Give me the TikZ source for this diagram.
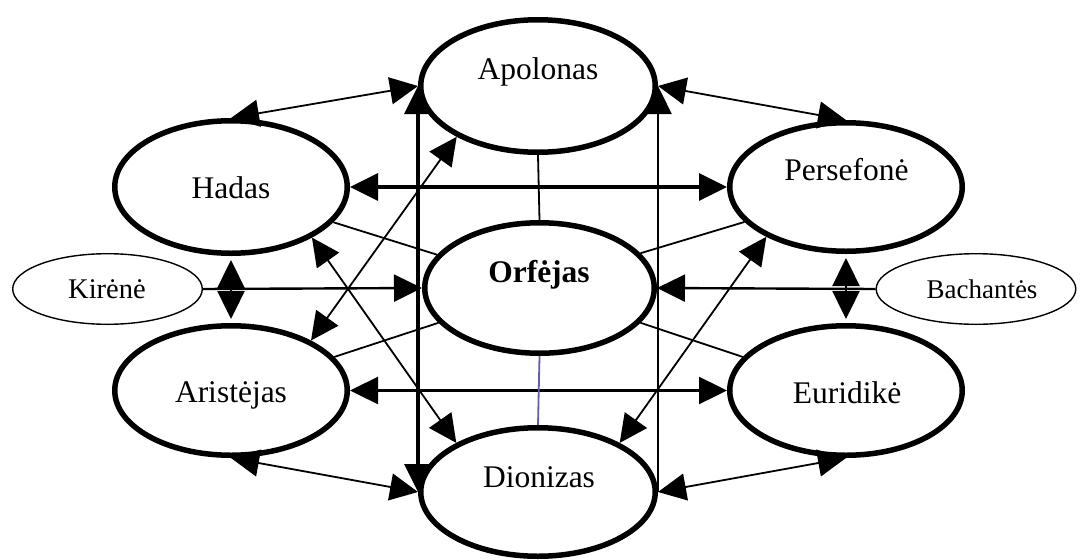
\documentclass[tikz,border=0pt]{standalone}
\usepackage{fontspec}
\setmainfont{Liberation Serif}
\usetikzlibrary{shapes.geometric,arrows.meta}
\definecolor{slate}{RGB}{96,96,160}
\begin{document}
\begin{tikzpicture}[x=1pt,y=-1pt,
  big/.style={ellipse,draw,line width=5.5pt,fill=white,inner sep=0pt},
  smallell/.style={ellipse,draw,line width=1.4pt,fill=white,inner sep=0pt},
  lbl/.style={anchor=base,inner sep=0pt,font=\fontsize{31.5}{37}\selectfont},
  slbl/.style={anchor=base,inner sep=0pt,font=\fontsize{27}{32}\selectfont},
  >={Triangle[length=28pt,width=27pt]},
  conn/.style={line width=1.8pt},
  medline/.style={line width=2.4pt},
  heavyline/.style={line width=3.2pt}]
\useasboundingbox (0,0) rectangle (1080,560);
% ellipses
\node[big,minimum width=234.5pt,minimum height=132.5pt] (apolonas) at (538,86) {};
\node[big,minimum width=229.5pt,minimum height=130.5pt] (orfejas) at (539.5,288) {};
\node[big,minimum width=234.5pt,minimum height=128.5pt] (dionizas) at (538,492) {};
\node[big,minimum width=232.5pt,minimum height=132.5pt] (hadas) at (231,187) {};
\node[big,minimum width=232.5pt,minimum height=128.5pt] (persefone) at (846,187) {};
\node[big,minimum width=232.5pt,minimum height=129.5pt] (aristejas) at (231,390.5) {};
\node[big,minimum width=232.5pt,minimum height=129.5pt] (euridike) at (846,390.5) {};
\node[smallell,minimum width=189.6pt,minimum height=70.6pt] (kirene) at (107.5,289) {};
\node[smallell,minimum width=199.6pt,minimum height=70.6pt] (bachantes) at (976,289) {};
% labels
\node[lbl] (apolonas-t) at (538,79) {Apolonas};
\node[lbl,font=\fontsize{31.5}{37}\selectfont\bfseries] (orfejas-t) at (539,282) {Orfėjas};
\node[lbl] (dionizas-t) at (539,487) {Dionizas};
\node[lbl] (hadas-t) at (231,198) {Hadas};
\node[lbl] (persefone-t) at (846.5,180) {Persefonė};
\node[lbl] (aristejas-t) at (231,402) {Aristėjas};
\node[lbl] (euridike-t) at (847,403) {Euridikė};
\node[slbl,font=\fontsize{28.5}{33}\selectfont] (kirene-t) at (107,298) {Kirėnė};
\node[slbl] (bachantes-t) at (982,298) {Bachantės};
% connectors
\draw[conn,<->] (hadas.north) -- (apolonas.west);
\draw[conn,<->] (apolonas.east) -- (persefone.north);
\draw[conn,<->] (aristejas.south) -- (dionizas.west);
\draw[conn,<->] (euridike.south) -- (dionizas.east);
\draw[heavyline,<->] (hadas.east) -- (persefone.west);
\draw[medline,<->] (aristejas.east) -- (euridike.west);
\draw[medline,->] (kirene.east) -- (orfejas.west);
\draw[medline,->] (bachantes.west) -- (orfejas.east);
\draw[medline,<->,shorten <=4pt,shorten >=4pt] (hadas.south) -- (aristejas.north);
\draw[medline,<->,shorten <=4pt,shorten >=4pt] (persefone.south) -- (euridike.north);
\draw[heavyline,<->] (apolonas.west) -- (dionizas.west);
\draw[medline,->] (dionizas.east) -- (apolonas.east);
\draw[conn,<->] (aristejas.32) -- (apolonas.212);
\draw[conn,<->] (hadas.-32) -- (dionizas.149);
\draw[conn,<->] (dionizas.31) -- (persefone.212);
\draw[conn] (hadas.-19) -- (orfejas.162);
\draw[conn] (persefone.199) -- (orfejas.19);
\draw[conn] (aristejas.18) -- (orfejas.199);
\draw[conn] (euridike.162) -- (orfejas.-19);
\draw[conn] (apolonas.south) -- (orfejas.north);
\draw[conn,slate] (orfejas.south) -- (dionizas.north);
\end{tikzpicture}
\end{document}
